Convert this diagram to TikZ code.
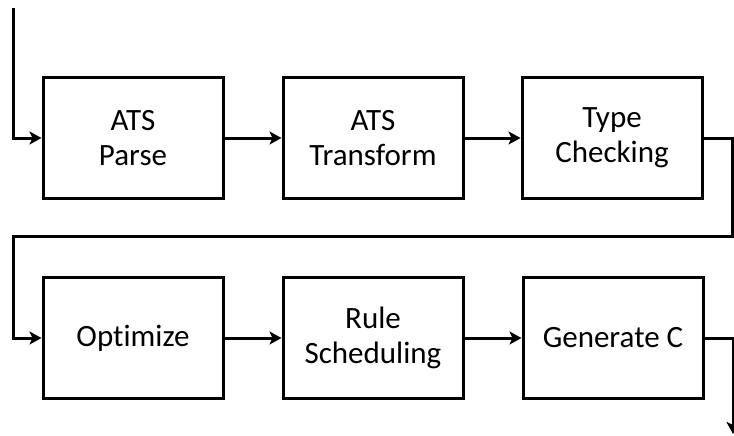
\documentclass[tikz,border=0pt]{standalone}
\usepackage{fontspec}
\setmainfont{Carlito}[Ligatures=NoCommon]
\usetikzlibrary{arrows.meta}
\begin{document}
\begin{tikzpicture}[x=1pt,y=-1pt,
  stage/.style={draw,line width=3pt,minimum width=180pt,minimum height=121pt,
    align=center,inner sep=0pt,font=\fontsize{31}{35}\selectfont},
  flow/.style={line width=3pt,-{Stealth[length=12pt,width=13pt,inset=3pt]}}]
\useasboundingbox (0,0) rectangle (734,436);
\node[stage] (b1) at (133,138) {ATS\\Parse};
\node[stage] (b2) at (373,138) {ATS\\Transform};
\node[stage] (b3) at (612,138) {Type\\Checking};
\node[stage] (b4) at (133,338) {Optimize};
\node[stage] (b5) at (373,338) {Rule\\Scheduling};
\node[stage] (b6) at (613,338) {Generate C};
\coordinate (in) at (13,8);
\coordinate (r1) at (732,236);
\coordinate (l1) at (13,236);
\coordinate (out) at (733,434);
\draw[flow] (in) |- (b1.west);
\draw[flow] (b1.east) -- (b2.west);
\draw[flow] (b2.east) -- (b3.west);
\draw[flow] (b3.east) -| (r1) -- (l1) |- (b4.west);
\draw[flow] (b4.east) -- (b5.west);
\draw[flow] (b5.east) -- (b6.west);
\draw[flow] (b6.east) -| (out);
\end{tikzpicture}
\end{document}
